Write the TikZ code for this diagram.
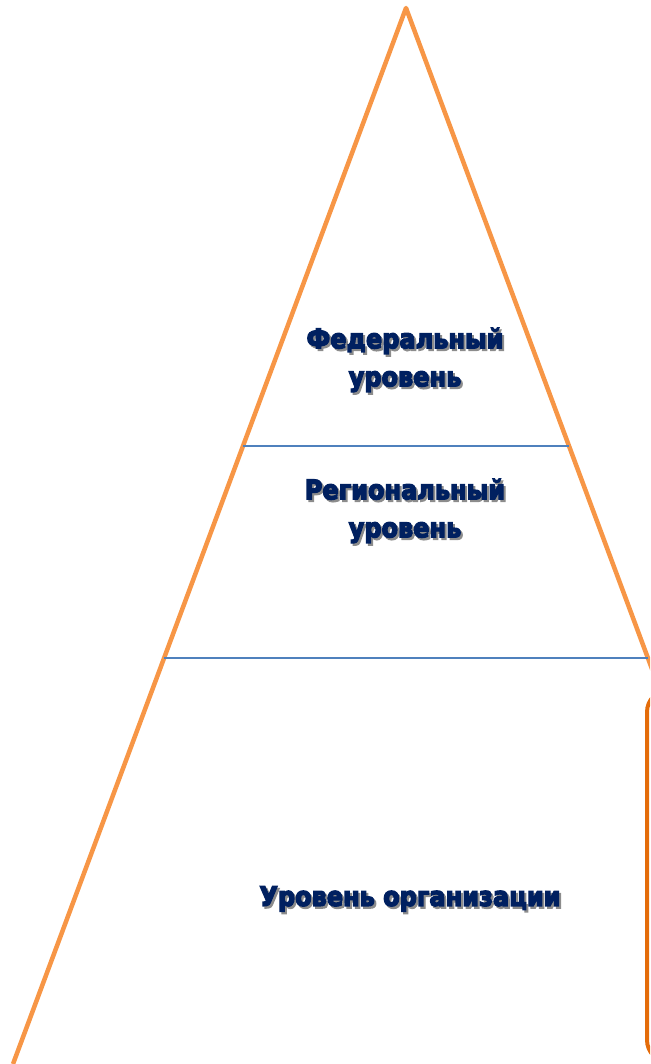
\documentclass[tikz,border=0pt]{standalone}
\usepackage{fontspec}
\setmainfont{DejaVu Sans}[BoldFeatures={FakeBold=5}]
\usepackage{tikz}
\usetikzlibrary{calc}
\definecolor{pyr}{HTML}{F79646}
\definecolor{sep}{HTML}{4F81BD}
\definecolor{txt}{HTML}{002060}
\definecolor{boxc}{HTML}{E46C0A}
% text with a grey drop shadow
\newcommand\shtext[1]{\scalebox{1}[1.12]{\rlap{\kern2pt\raisebox{-2pt}{\textcolor{black!45}{#1}}}#1}}
\begin{document}
\begin{tikzpicture}[x=1pt,y=-1pt,
    lvl/.style={font=\bfseries\fontsize{24}{38}\selectfont, text=txt, align=center}]
        \useasboundingbox (0,0) rectangle (650,1064);
        \clip (0,0) rectangle (650,1064);

        \coordinate (T) at (406,8);    % вершина
        \coordinate (BL) at (13,1064);
        \coordinate (BR) at (799,1064);

        % пирамида
        \draw[pyr, line width=4.5, line join=round] (BL) -- (T) -- (BR);

        % границы уровней
        \draw[sep, line width=1.5] ($(T)!0.4148!(BL)$) -- ($(T)!0.4148!(BR)$);
        \draw[sep, line width=1.5] ($(T)!0.6155!(BL)$) -- ($(T)!0.6155!(BR)$);

        % рамка справа
        \draw[boxc, line width=4, rounded corners=22] (647,690) rectangle (720,1062);

        \node[lvl] (fed) at (405,361) {\shtext{Федеральный}\\\shtext{уровень}};
        \node[lvl] (reg) at (405,512) {\shtext{Региональный}\\\shtext{уровень}};
        \node[lvl] (org) at (410,900) {\shtext{Уровень организации}};
    \end{tikzpicture}
\end{document}
